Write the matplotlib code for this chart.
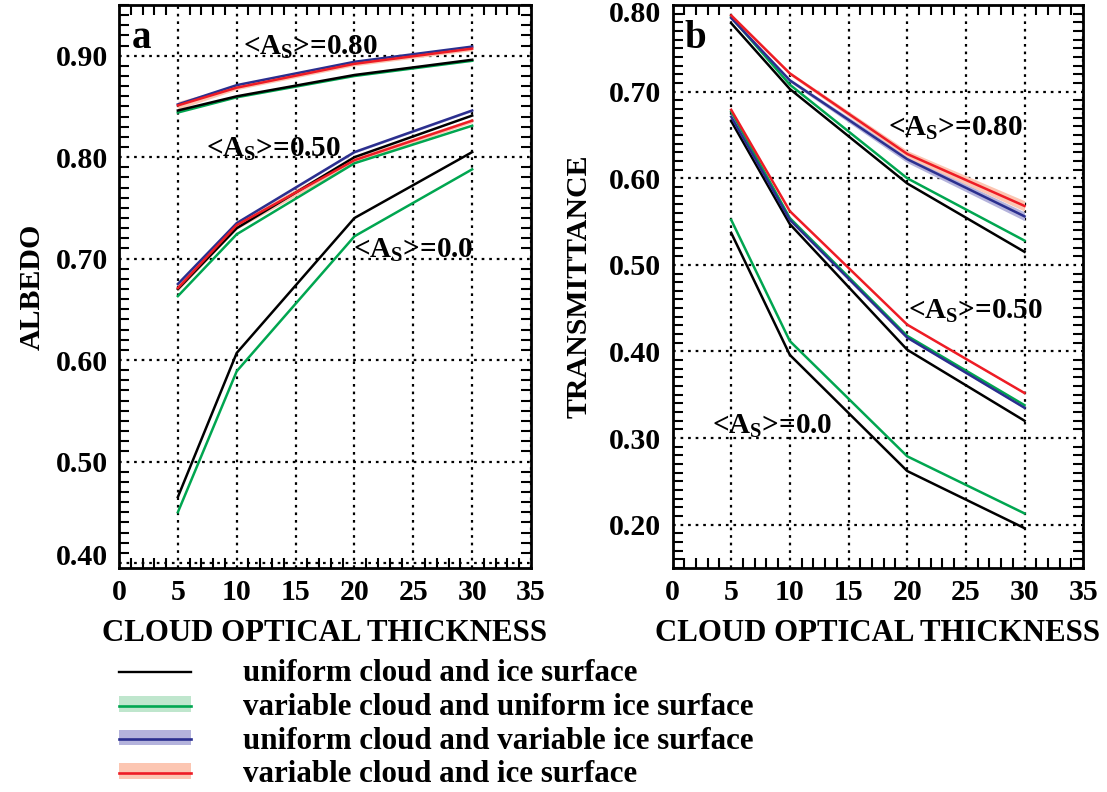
import matplotlib
matplotlib.use("Agg")
import matplotlib.pyplot as plt
import numpy as np
from matplotlib.patches import Patch
from matplotlib.legend_handler import HandlerTuple
from matplotlib.ticker import MultipleLocator
from matplotlib.transforms import ScaledTranslation

plt.rcParams['font.family'] = ['Liberation Serif', 'DejaVu Serif']
plt.rcParams['font.weight'] = 'bold'
plt.rcParams['axes.labelweight'] = 'bold'
plt.rcParams['mathtext.fontset'] = 'custom'
plt.rcParams['mathtext.rm'] = 'Liberation Serif:bold'
plt.rcParams['mathtext.it'] = 'Liberation Serif:bold'
plt.rcParams['mathtext.bf'] = 'Liberation Serif:bold'

# cloud optical thickness
tau = [5, 10, 20, 30]

# albedo (panel a), by mean surface albedo
alb_uniform = {0.8: [0.846, 0.860, 0.881, 0.896],
               0.5: [0.670, 0.730, 0.800, 0.841],
               0.0: [0.465, 0.607, 0.740, 0.805]}
alb_varcloud = {0.8: [0.844, 0.859, 0.880, 0.895],
                0.5: [0.663, 0.724, 0.794, 0.831],
                0.0: [0.450, 0.589, 0.722, 0.788]}
alb_varice = {0.8: [0.852, 0.871, 0.894, 0.909],
              0.5: [0.675, 0.735, 0.805, 0.846]}
alb_varboth = {0.8: [0.851, 0.8685, 0.892, 0.907],
               0.5: [0.671, 0.733, 0.797, 0.836]}
# spread of the variable-surface runs
alb_varice_sd = {0.8: [0.001, 0.001, 0.001, 0.001],
                 0.5: [0.001, 0.001, 0.001, 0.001]}
alb_varboth_sd = {0.8: [0.004, 0.002, 0.002, 0.002],
                  0.5: [0.003, 0.004, 0.003, 0.002]}

# transmittance (panel b)
tr_uniform = {0.8: [0.779, 0.703, 0.594, 0.515],
              0.5: [0.666, 0.547, 0.402, 0.320],
              0.0: [0.537, 0.396, 0.262, 0.196]}
tr_varcloud = {0.8: [0.786, 0.708, 0.600, 0.528],
               0.5: [0.677, 0.554, 0.418, 0.338],
               0.0: [0.552, 0.412, 0.279, 0.213]}
tr_varice = {0.8: [0.785, 0.713, 0.622, 0.556],
             0.5: [0.671, 0.552, 0.416, 0.335]}
tr_varboth = {0.8: [0.788, 0.721, 0.628, 0.568],
              0.5: [0.679, 0.562, 0.431, 0.352]}
tr_varice_sd = {0.8: [0.001, 0.002, 0.004, 0.005],
                0.5: [0.001, 0.001, 0.001, 0.001]}
tr_varboth_sd = {0.8: [0.002, 0.002, 0.004, 0.006],
                 0.5: [0.001, 0.001, 0.001, 0.001]}

labels = ["uniform cloud and ice surface",
          "variable cloud and uniform ice surface",
          "uniform cloud and variable ice surface",
          "variable cloud and ice surface"]

BLACK = 'black'
GREEN = '#00a650'
BLUE = '#2b2f8f'
RED = '#ee1c25'
GREEN_BAND = '#bfe6cd'
BLUE_BAND = '#b4b3dc'
RED_BAND = '#fcc6b2'

fig = plt.figure(figsize=(11.07, 7.92), dpi=100)
ax_a = fig.add_axes([0.1075, 0.2828, 0.3722, 0.7109])
ax_b = fig.add_axes([0.6075, 0.2828, 0.3710, 0.7109])


def draw_panel(ax, unif, vcloud, vice, vboth, vice_sd, vboth_sd):
    x = np.array(tau)
    for a in vice:
        m = np.array(vice[a]); s = np.array(vice_sd[a])
        ax.fill_between(x, m - s, m + s, color=BLUE_BAND, lw=0, zorder=2)
        m = np.array(vboth[a]); s = np.array(vboth_sd[a])
        ax.fill_between(x, m - s, m + s, color=RED_BAND, lw=0, zorder=2)
    for a in unif:
        ax.plot(x, unif[a], color=BLACK, lw=1.8, zorder=4)
        ax.plot(x, vcloud[a], color=GREEN, lw=1.8, zorder=3)
    for a in vice:
        ax.plot(x, vice[a], color=BLUE, lw=1.8, zorder=4)
        ax.plot(x, vboth[a], color=RED, lw=1.8, zorder=5)
    ax.set_xlim(0, 35)
    ax.xaxis.set_major_locator(MultipleLocator(5))
    ax.xaxis.set_minor_locator(MultipleLocator(1))
    ax.yaxis.set_major_locator(MultipleLocator(0.1))
    ax.yaxis.set_minor_locator(MultipleLocator(0.01))
    ax.yaxis.set_major_formatter(plt.FormatStrFormatter('%.2f'))
    ax.tick_params(which='both', direction='in', top=True, right=True,
                   labelsize=21.5, width=1.5)
    ax.tick_params(which='major', length=0, pad=8)
    ax.tick_params(which='minor', length=7)
    ax.grid(True, which='major', color='black', ls=(0, (1.2, 2.2)), lw=1.6)
    for sp in ax.spines.values():
        sp.set_linewidth(2)
    ax.set_xlabel('CLOUD OPTICAL THICKNESS', fontsize=22.2, labelpad=9)


draw_panel(ax_a, alb_uniform, alb_varcloud, alb_varice, alb_varboth,
           alb_varice_sd, alb_varboth_sd)
ax_a.set_ylim(0.395, 0.95)
ax_a.set_ylabel('ALBEDO', fontsize=21.5, labelpad=7)
ax_a.text(0.03, 0.94, 'a', transform=ax_a.transAxes, fontsize=28,
          va='center', ha='left')
tsize = 21
ax_a.text(10.5, 0.908, r'<A$_{\rm S}$>=0.80', fontsize=tsize, va='center')
ax_a.text(7.4, 0.808, r'<A$_{\rm S}$>=0.50', fontsize=tsize, va='center')
ax_a.text(19.9, 0.708, r'<A$_{\rm S}$>=0.0', fontsize=tsize, va='center')

draw_panel(ax_b, tr_uniform, tr_varcloud, tr_varice, tr_varboth,
           tr_varice_sd, tr_varboth_sd)
ax_b.set_ylim(0.15, 0.80)
ax_b.set_ylabel('TRANSMITTANCE', fontsize=21.5, labelpad=12)
ax_b.text(0.03, 0.94, 'b', transform=ax_b.transAxes, fontsize=28,
          va='center', ha='left')
ax_b.text(18.4, 0.657, r'<A$_{\rm S}$>=0.80', fontsize=tsize, va='center')
ax_b.text(20.1, 0.446, r'<A$_{\rm S}$>=0.50', fontsize=tsize, va='center')
ax_b.text(3.4, 0.313, r'<A$_{\rm S}$>=0.0', fontsize=tsize, va='center')

# legend
h_black = plt.Line2D([], [], color=BLACK, lw=1.7)
h_green = (Patch(facecolor=GREEN_BAND, edgecolor='none'),
           plt.Line2D([], [], color=GREEN, lw=1.9))
h_blue = (Patch(facecolor=BLUE_BAND, edgecolor='none'),
          plt.Line2D([], [], color=BLUE, lw=1.9))
h_red = (Patch(facecolor=RED_BAND, edgecolor='none'),
         plt.Line2D([], [], color=RED, lw=1.9))
fig.legend([h_black, h_green, h_blue, h_red], labels,
           handler_map={tuple: HandlerTuple(ndivide=1, pad=0)},
           loc='upper left', bbox_to_anchor=(0.0935, 0.187), frameon=False,
           fontsize=22.3, handlelength=2.32, handleheight=0.4,
           handletextpad=1.7, labelspacing=0.15, borderpad=0)

# nudge the edge tick labels inside, as in the original
fig.canvas.draw()
for lbl in ax_b.get_yticklabels():
    if lbl.get_text() == '0.80':
        lbl.set_transform(lbl.get_transform() +
                          ScaledTranslation(0, -5 / 72, fig.dpi_scale_trans))
for lbl in ax_a.get_yticklabels():
    if lbl.get_text() == '0.40':
        lbl.set_transform(lbl.get_transform() +
                          ScaledTranslation(0, 6 / 72, fig.dpi_scale_trans))

fig.savefig('out.png', dpi=100)
